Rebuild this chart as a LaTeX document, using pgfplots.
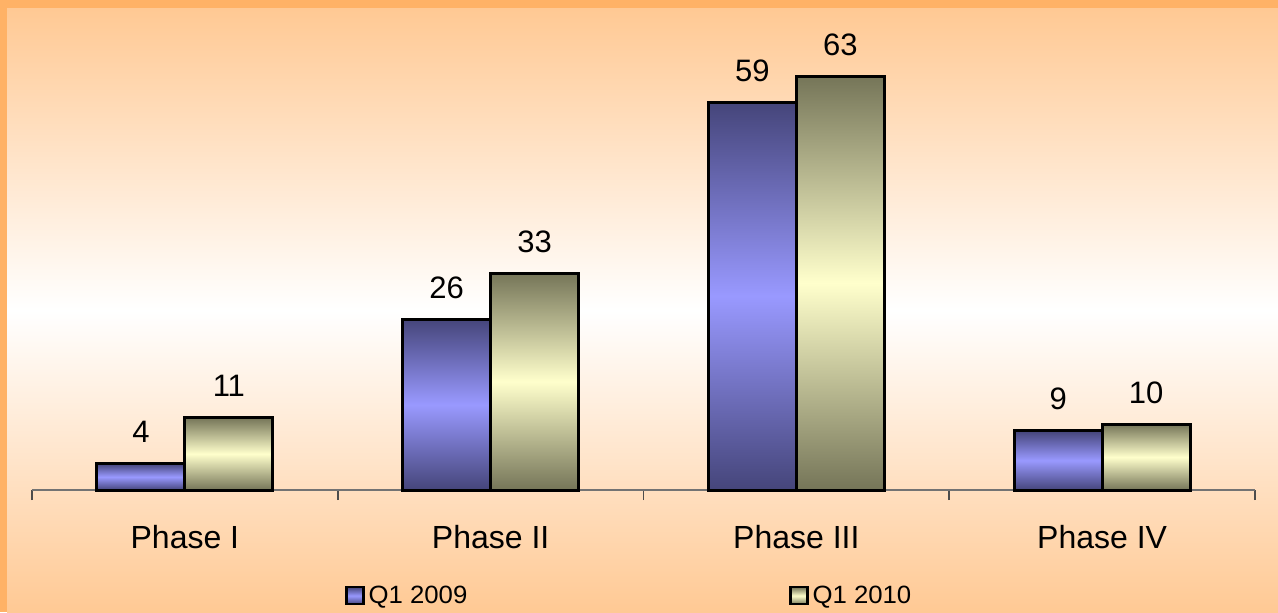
\documentclass[border=0pt]{standalone}
\usepackage{fontspec}
\setmainfont{Liberation Sans}
\usepackage{graphicx}
\usepackage{pgfplots}
\pgfplotsset{compat=1.18}
\definecolor{frameor}{RGB}{255,178,102}
\definecolor{bgor}{RGB}{255,201,148}
\definecolor{bluedark}{RGB}{69,69,122}
\definecolor{bluelight}{RGB}{153,153,255}
\definecolor{olivedark}{RGB}{117,117,88}
\definecolor{olivelight}{RGB}{255,255,204}
% every bar is its own plot, so that each one gets its own gradient
\pgfplotsset{
    bar09/.style={bar shift=-22pt, draw=black, line width=1.5pt,
        top color=bluedark, bottom color=bluedark, middle color=bluelight},
    bar10/.style={bar shift=22pt, draw=black, line width=1.5pt,
        top color=olivedark, bottom color=olivedark, middle color=olivelight},
}
\begin{document}
\begin{tikzpicture}
% frame and background
\fill[frameor] (0,0) rectangle (639pt,306pt);
\shade[top color=bgor, bottom color=bgor, middle color=white] (3.5pt,0) rectangle (639pt,301.5pt);
\useasboundingbox (0,0) rectangle (639pt,306pt);
\begin{axis}[
    at={(16pt,61pt)}, anchor=south west,
    scale only axis, width=611.5pt, height=230pt,
    xmin=-0.5, xmax=3.5, ymin=0, ymax=70,
    clip=false,
    /pgf/number format/assume math mode=true,
    axis y line=none, axis x line*=bottom,
    axis line style={draw=black!55, line width=0.8pt, -},
    xtick={0,1,2,3},
    xticklabels={Phase I, Phase II, Phase III, Phase IV},
    major tick length=0pt,
    minor xtick={-0.5,0.5,1.5,2.5,3.5},
    minor tick length=5pt, tick align=outside,
    minor tick style={black!70, line width=0.8pt},
    xticklabel style={font=\fontsize{16}{19}\selectfont, anchor=base, yshift=-29pt},
    ybar, bar width=44pt,
    nodes near coords,
    nodes near coords style={text=black, font=\fontsize{15.5}{18}\selectfont, anchor=base, yshift=10.5pt},
    legend columns=2,
    legend style={draw=none, fill=none, at={(0.2559,-0.2300)}, anchor=west,
        inner sep=0pt, font=\fontsize{12.5}{15}\selectfont,
        /tikz/every even column/.append style={column sep=159pt}},
    legend image code/.code={\draw[#1, line width=1.1pt] (0pt,-4.25pt) rectangle (8.5pt,4.25pt);},
]
\addplot[bar09] coordinates {(0,4)};
\addlegendentry{\scalebox{1.03}[1]{Q1 2009}}
\addplot[bar10] coordinates {(0,11)};
\addlegendentry{\scalebox{1.03}[1]{Q1 2010}}
\addplot[bar09, forget plot] coordinates {(1,26)};
\addplot[bar10, forget plot] coordinates {(1,33)};
\addplot[bar09, forget plot] coordinates {(2,59)};
\addplot[bar10, forget plot] coordinates {(2,63)};
\addplot[bar09, forget plot] coordinates {(3,9)};
\addplot[bar10, forget plot] coordinates {(3,10)};
\end{axis}
\end{tikzpicture}
\end{document}
